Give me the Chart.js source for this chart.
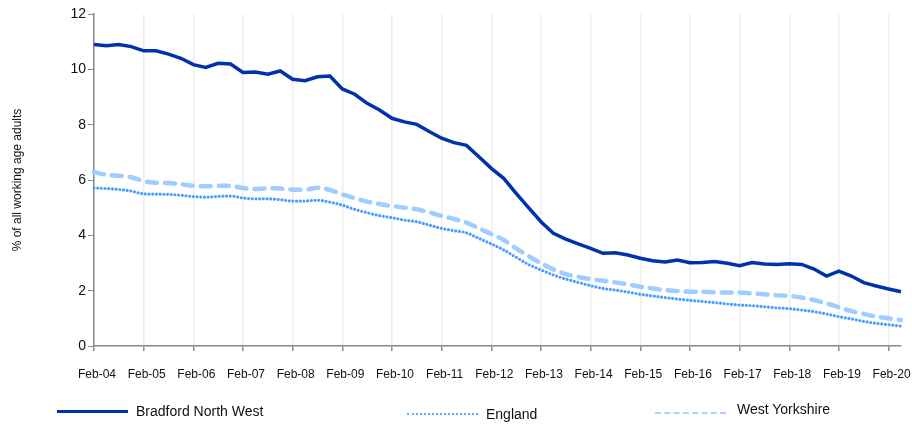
<!DOCTYPE html>
<html>
<head>
<meta charset="utf-8">
<script src="https://cdn.jsdelivr.net/npm/chart.js@4"></script>
<style>
  body { margin: 0; background: #fff; font-family: "Liberation Sans", Arial, sans-serif; }
  #wrap { position: relative; width: 912px; height: 426px; }
  .leg { position: absolute; font-size: 14px; color: #111; white-space: nowrap; }
  .swatch { position: absolute; width: 71px; height: 0; }
</style>
</head>
<body>
<div id="wrap">
  <canvas id="chart" width="912" height="426"></canvas>
  <div class="swatch" style="left:57px; top:410px; border-top:3px solid #0032ae;"></div>
  <div class="leg" style="left:136px; top:403px;">Bradford North West</div>
  <div class="swatch" style="left:407px; top:413px; border-top:2px dotted #5aa8ff;"></div>
  <div class="leg" style="left:486px; top:406px;">England</div>
  <div class="swatch" style="left:655px; top:412px; border-top:2px dashed #a8d2ff;"></div>
  <div class="leg" style="left:737px; top:401px;">West Yorkshire</div>
</div>
<script>
// tick labels shown on the x axis (one per year, February)
const yearLabels = ['Feb-04', 'Feb-05', 'Feb-06', 'Feb-07', 'Feb-08', 'Feb-09', 'Feb-10', 'Feb-11',
  'Feb-12', 'Feb-13', 'Feb-14', 'Feb-15', 'Feb-16', 'Feb-17', 'Feb-18', 'Feb-19', 'Feb-20'];
const quarters = ['Feb', 'May', 'Aug', 'Nov'];

// quarterly series, Feb-04 .. May-20
const bradford = [10.90, 10.85, 10.90, 10.82, 10.67, 10.67, 10.55, 10.40, 10.17, 10.07, 10.22, 10.19,
  9.89, 9.90, 9.82, 9.94, 9.64, 9.59, 9.73, 9.76, 9.29, 9.10, 8.77, 8.53, 8.23, 8.10, 8.01, 7.75,
  7.51, 7.35, 7.25, 6.84, 6.42, 6.06, 5.52, 5.00, 4.49, 4.07, 3.86, 3.69, 3.53, 3.35, 3.37, 3.29,
  3.17, 3.08, 3.04, 3.11, 3.01, 3.02, 3.05, 2.99, 2.90, 3.02, 2.96, 2.95, 2.97, 2.95, 2.78, 2.53,
  2.71, 2.53, 2.29, 2.17, 2.06, 1.96];
const england = [5.72, 5.69, 5.66, 5.60, 5.50, 5.49, 5.48, 5.45, 5.40, 5.38, 5.41, 5.42, 5.35, 5.32,
  5.32, 5.29, 5.24, 5.24, 5.27, 5.20, 5.09, 4.94, 4.82, 4.71, 4.64, 4.55, 4.49, 4.37, 4.25, 4.17,
  4.09, 3.89, 3.69, 3.47, 3.21, 2.95, 2.75, 2.57, 2.42, 2.30, 2.18, 2.08, 2.02, 1.95, 1.87, 1.81,
  1.75, 1.70, 1.65, 1.61, 1.57, 1.52, 1.48, 1.46, 1.42, 1.38, 1.35, 1.30, 1.24, 1.16, 1.06, 0.98,
  0.89, 0.82, 0.77, 0.72];
const westYorkshire = [6.28, 6.19, 6.15, 6.10, 5.96, 5.90, 5.89, 5.85, 5.79, 5.77, 5.79, 5.79, 5.71,
  5.67, 5.70, 5.69, 5.65, 5.65, 5.72, 5.64, 5.48, 5.34, 5.22, 5.13, 5.06, 5.00, 4.94, 4.83, 4.70,
  4.59, 4.46, 4.25, 4.05, 3.83, 3.53, 3.25, 2.99, 2.77, 2.60, 2.50, 2.42, 2.36, 2.30, 2.23, 2.14,
  2.08, 2.02, 1.99, 1.96, 1.96, 1.94, 1.93, 1.93, 1.90, 1.87, 1.83, 1.81, 1.75, 1.66, 1.54, 1.40,
  1.26, 1.16, 1.06, 1.00, 0.94];

const yTicks = [0, 2, 4, 6, 8, 10, 12];

// build the quarterly category labels from the year labels
const labels = [];
yearLabels.forEach(y => {
  const yr = y.split('-')[1];
  quarters.forEach(q => labels.push(q + '-' + yr));
});
labels.length = bradford.length;

Chart.defaults.font.family = '"Liberation Sans", Arial, sans-serif';
Chart.defaults.color = '#111';

new Chart(document.getElementById('chart'), {
  type: 'line',
  data: {
    labels: labels,
    datasets: [
      {
        label: 'Bradford North West',
        data: bradford,
        borderColor: '#0032ae',
        borderWidth: 3.5,
        pointRadius: 0,
        tension: 0
      },
      {
        label: 'England',
        data: england,
        borderColor: '#4a9eff',
        borderWidth: 3.2,
        borderDash: [0, 3.7],
        borderCapStyle: 'round',
        pointRadius: 0,
        cubicInterpolationMode: 'monotone'
      },
      {
        label: 'West Yorkshire',
        data: westYorkshire,
        borderColor: '#9fcdff',
        borderWidth: 4.5,
        borderDash: [10, 8],
        borderCapStyle: 'round',
        pointRadius: 0,
        cubicInterpolationMode: 'monotone'
      }
    ]
  },
  options: {
    responsive: false,
    animation: false,
    layout: { padding: { left: 0, top: 14, right: 11, bottom: 40 } },
    plugins: { legend: { display: false }, tooltip: { enabled: false } },
    scales: {
      x: {
        offset: false,
        border: { display: true, color: '#8a8a8a', width: 1.5 },
        grid: {
          color: '#eeeeee',
          tickColor: '#8a8a8a',
          lineWidth: 1.5,
          tickLength: 5
        },
        ticks: {
          autoSkip: false,
          maxRotation: 0,
          padding: 16,
          labelOffset: 3,
          font: { size: 12 },
          // only the February quarters carry a label (and a grid line)
          callback: (v, i) => i % 4 === 0 ? yearLabels[i / 4] : null
        },
        afterFit: s => {
          s.height = 40;
          s.paddingLeft = 0;
          s.paddingRight = 0;
        }
      },
      y: {
        min: 0,
        max: 12,
        border: { display: true, color: '#8a8a8a', width: 1.5 },
        grid: { drawOnChartArea: false, tickColor: '#8a8a8a', tickLength: 6 },
        afterBuildTicks: s => { s.ticks = yTicks.map(v => ({ value: v })); },
        ticks: { padding: 2, font: { size: 14 } },
        title: {
          display: true,
          text: '% of all working age adults',
          font: { size: 12 },
          padding: { top: 10, bottom: 0 }
        },
        afterFit: s => { s.width = 94; }
      }
    }
  }
});
</script>
</body>
</html>
